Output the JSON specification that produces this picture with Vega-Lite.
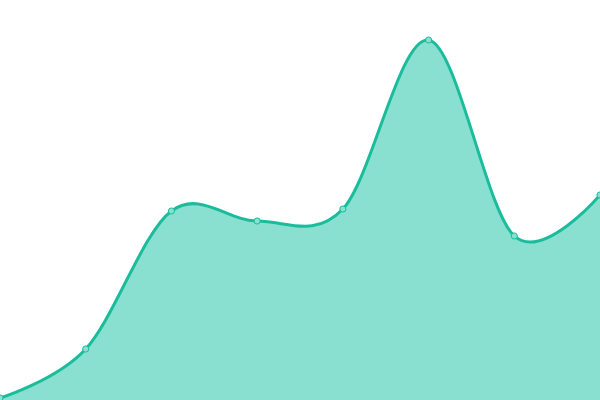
{
  "$schema": "https://vega.github.io/schema/vega-lite/v6.json",
  "width": 600,
  "height": 400,
  "autosize": {"type": "none"},
  "padding": 0,
  "config": {"view": {"stroke": null}},
  "data": {
    "values": [
      {"i": 0, "v": 2},
      {"i": 1, "v": 51},
      {"i": 2, "v": 189},
      {"i": 3, "v": 179},
      {"i": 4, "v": 191},
      {"i": 5, "v": 360},
      {"i": 6, "v": 164},
      {"i": 7, "v": 205}
    ]
  },
  "encoding": {
    "x": {"field": "i", "type": "quantitative", "scale": {"domain": [0, 7], "nice": false, "zero": false}, "axis": null},
    "y": {"field": "v", "type": "quantitative", "scale": {"domain": [0, 400], "nice": false}, "axis": null}
  },
  "layer": [
    {"mark": {"type": "area", "interpolate": "cardinal", "color": "#89e0d0", "clip": true}},
    {"mark": {"type": "line", "interpolate": "cardinal", "color": "#1abc9c", "strokeWidth": 3, "clip": true}},
    {"mark": {"type": "point", "filled": true, "fill": "#89e0d0", "stroke": "#1abc9c", "strokeWidth": 1, "size": 38, "opacity": 1}}
  ]
}
